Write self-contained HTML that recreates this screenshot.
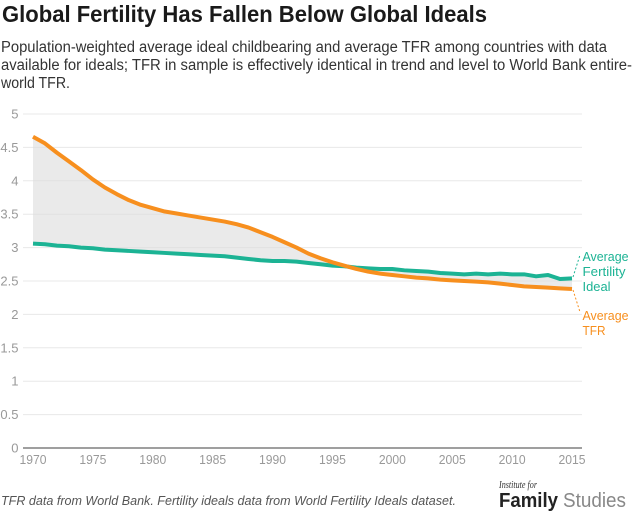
<!DOCTYPE html>
<html lang="en">
<head>
<meta charset="utf-8">
<title>Global Fertility Has Fallen Below Global Ideals</title>
<style>
html,body{margin:0;padding:0;background:#fff;}
svg{display:block;font-family:"Liberation Sans",sans-serif;}
</style>
</head>
<body>
<svg id="chart" xmlns="http://www.w3.org/2000/svg" width="640" height="516" viewBox="0 0 640 516">
<rect width="640" height="516" fill="#fff"/>
<text x="2" y="22" font-size="23" font-weight="bold" fill="#1a1a1a" textLength="485" lengthAdjust="spacingAndGlyphs">Global Fertility Has Fallen Below Global Ideals</text>
<g font-size="15.5" fill="#333">
<text x="1" y="52" textLength="606" lengthAdjust="spacingAndGlyphs">Population-weighted average ideal childbearing and average TFR among countries with data</text>
<text x="1" y="70" textLength="631" lengthAdjust="spacingAndGlyphs">available for ideals; TFR in sample is effectively identical in trend and level to World Bank entire-</text>
<text x="1" y="88" textLength="69" lengthAdjust="spacingAndGlyphs">world TFR.</text>
</g>
<g id="grid"></g>
<path id="gap" fill="#dcdcdc" fill-opacity="0.6" stroke="none"/>
<g id="axes"></g>
<path id="ideal" fill="none" stroke="#1cb394" stroke-width="4" stroke-linejoin="round"/>
<path id="tfr" fill="none" stroke="#f78f1e" stroke-width="4" stroke-linejoin="round"/>
<line x1="573" y1="277" x2="580" y2="255" stroke="#1cb394" stroke-width="1" stroke-dasharray="2 2"/>
<line x1="573" y1="290" x2="580" y2="312" stroke="#f78f1e" stroke-width="1" stroke-dasharray="2 2"/>
<g font-size="13" fill="#1cb394">
<text x="582.5" y="261" textLength="46" lengthAdjust="spacingAndGlyphs">Average</text>
<text x="582.5" y="276" textLength="43" lengthAdjust="spacingAndGlyphs">Fertility</text>
<text x="582.5" y="291" textLength="28" lengthAdjust="spacingAndGlyphs">Ideal</text>
</g>
<g font-size="13" fill="#f78f1e">
<text x="582.5" y="320" textLength="46" lengthAdjust="spacingAndGlyphs">Average</text>
<text x="582.5" y="335" textLength="23" lengthAdjust="spacingAndGlyphs">TFR</text>
</g>
<text x="1" y="505" font-size="12.5" font-style="italic" fill="#555" textLength="455" lengthAdjust="spacingAndGlyphs">TFR data from World Bank. Fertility ideals data from World Fertility Ideals dataset.</text>
<g>
<text x="499" y="488" font-family="'Liberation Serif',serif" font-style="italic" font-size="10" fill="#333" textLength="38" lengthAdjust="spacingAndGlyphs">Institute for</text>
<text x="499" y="507" font-size="20" font-weight="bold" fill="#222" textLength="59" lengthAdjust="spacingAndGlyphs">Family</text>
<text x="563" y="507" font-size="20" fill="#888" textLength="63" lengthAdjust="spacingAndGlyphs">Studies</text>
</g>
</svg>
<script>
const years = [1970,1971,1972,1973,1974,1975,1976,1977,1978,1979,1980,1981,1982,1983,1984,1985,1986,1987,1988,1989,1990,1991,1992,1993,1994,1995,1996,1997,1998,1999,2000,2001,2002,2003,2004,2005,2006,2007,2008,2009,2010,2011,2012,2013,2014,2015];
const tfrValues = [4.66,4.56,4.42,4.29,4.16,4.02,3.90,3.80,3.71,3.64,3.59,3.54,3.51,3.48,3.45,3.42,3.39,3.35,3.30,3.23,3.16,3.08,3.00,2.91,2.84,2.78,2.73,2.68,2.64,2.61,2.59,2.57,2.55,2.54,2.52,2.51,2.50,2.49,2.48,2.46,2.44,2.42,2.41,2.40,2.39,2.38];
const idealValues = [3.06,3.05,3.03,3.02,3.00,2.99,2.97,2.96,2.95,2.94,2.93,2.92,2.91,2.90,2.89,2.88,2.87,2.85,2.83,2.81,2.80,2.80,2.79,2.77,2.75,2.73,2.72,2.70,2.69,2.68,2.68,2.66,2.65,2.64,2.62,2.61,2.60,2.61,2.60,2.61,2.60,2.60,2.57,2.59,2.53,2.54];
const yTicks = [0,0.5,1,1.5,2,2.5,3,3.5,4,4.5,5];
const xTicks = [1970,1975,1980,1985,1990,1995,2000,2005,2010,2015];

const NS = 'http://www.w3.org/2000/svg';
const xScale = function (year) { return 33 + (year - 1970) * (572 - 33) / 45; };
const yScale = function (v) { return 448 - v * (448 - 114) / 5; };
const make = function (tag, attrs, parent) {
  const el = document.createElementNS(NS, tag);
  Object.keys(attrs).forEach(function (k) { el.setAttribute(k, attrs[k]); });
  parent.appendChild(el);
  return el;
};
const linePath = function (values) {
  return values.map(function (v, i) {
    return (i ? 'L' : 'M') + xScale(years[i]).toFixed(2) + ' ' + yScale(v).toFixed(2);
  }).join(' ');
};

const grid = document.getElementById('grid');
const axes = document.getElementById('axes');

yTicks.forEach(function (t) {
  if (t !== 0) {
    const g = make('line', {x1: 23, x2: 582, y1: yScale(t), y2: yScale(t), stroke: '#e8e8e8', 'stroke-width': 1}, grid);
    
    
  }
  const lab = make('text', {x: 18.5, y: yScale(t) + 4.5, 'text-anchor': 'end', 'font-size': 13, fill: '#999'}, axes);
  lab.textContent = String(t);
  
  
});

const baseline = make('line', {x1: 23, x2: 582, y1: yScale(0), y2: yScale(0), stroke: '#666', 'stroke-width': 1.2}, axes);



xTicks.forEach(function (t) {
  const lab = make('text', {x: xScale(t), y: 464, 'text-anchor': 'middle', 'font-size': 13, fill: '#999', textLength: 27, lengthAdjust: 'spacingAndGlyphs'}, axes);
  lab.textContent = String(t);
  
  
});

let gapD = linePath(tfrValues);
for (let i = years.length - 1; i >= 0; i--) {
  gapD += ' L' + xScale(years[i]).toFixed(2) + ' ' + yScale(idealValues[i]).toFixed(2);
}
document.getElementById('gap').setAttribute('d', gapD + ' Z');
document.getElementById('ideal').setAttribute('d', linePath(idealValues));
document.getElementById('tfr').setAttribute('d', linePath(tfrValues));
</script>
</body>
</html>
